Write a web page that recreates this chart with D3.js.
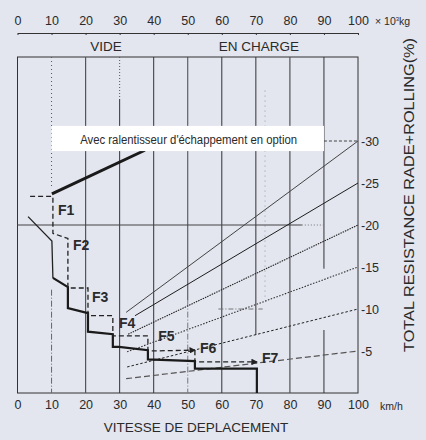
<!DOCTYPE html>
<html>
<head>
<meta charset="utf-8">
<script src="https://cdn.jsdelivr.net/npm/d3@7"></script>
<style>
  html, body { margin: 0; padding: 0; background: #e3e5ef; }
  svg { display: block; }
  text { font-family: "Liberation Sans", Arial, sans-serif; fill: #2a2a2a; }
</style>
</head>
<body>
<svg id="chart" width="426" height="440"></svg>
<script>
// Axis ticks
const speedTicks = [0, 10, 20, 30, 40, 50, 60, 70, 80, 90, 100];   // km/h
const weightTicks = [0, 10, 20, 30, 40, 50, 60, 70, 80, 90, 100];  // x 10^3 kg
const gradeTicks = [5, 10, 15, 20, 25, 30];                        // total resistance %

// Rimpull curve, solid (speed km/h, pull)
const rimpullSolid = [
  [10.4, 13.7], [14.8, 12.6], [14.8, 10.1], [20.7, 9.5], [20.7, 7.3],
  [28.0, 7.0], [28.0, 5.5], [29.8, 5.5], [38.3, 5.1], [38.3, 4.0],
  [52.1, 3.8], [52.1, 2.9], [70.3, 2.9], [70.3, 0]
];
const rimpullSolidLead = [[3.1, 21.0], [10.1, 18.1], [10.4, 13.7]];

// Rimpull curve, dashed
const rimpullDashed = [
  [3.7, 23.4], [10.4, 23.4], [10.4, 19.0], [14.8, 18.4], [14.8, 12.5],
  [20.7, 12.5], [20.7, 9.2], [28.0, 9.2], [28.0, 6.8], [38.3, 6.8],
  [38.3, 5.0], [52.1, 5.1]
];
const rimpullDashedTail = [[52.1, 5.1], [52.1, 3.7], [70.3, 3.7]];

// Optional exhaust retarder line
const retarderLine = [[10.1, 23.7], [37.4, 28.9]];

// Gear labels
const gearNames = ["F1", "F2", "F3", "F4", "F5", "F6", "F7"];
const gearX = [11.9, 16.3, 21.9, 29.8, 41.3, 53.6, 71.8];
const gearY = [21.2, 17.0, 10.8, 7.7, 6.2, 4.8, 3.6];

// Total resistance lines: start point and grade reached at the right edge
const gradeLines = [30, 25, 20, 15, 10, 5];
const gradeStartX = [31.9, 34.5, 32.5, 32.2, 32.2, 31.9];
const gradeStartY = [9.6, 9.2, 7.0, 4.9, 3.1, 1.7];

const svg = d3.select("#chart");
const x = d3.scaleLinear().domain([0, 100]).range([17.5, 358]);
const y = d3.scaleLinear().domain([0, 40]).range([393, 57]);
const line = d3.line().x(d => x(d[0])).y(d => y(d[1]));

svg.append("rect").attr("width", 426).attr("height", 440).attr("fill", "#e3e5ef");

// frame
svg.append("rect")
  .attr("x", x(0)).attr("y", y(40))
  .attr("width", x(100) - x(0)).attr("height", y(0) - y(40))
  .attr("fill", "none").attr("stroke", "#333").attr("stroke-width", 1);

// vertical guide lines
const g = svg.append("g").attr("fill", "none");
function vseg(v, a, b, color, w, dash) {
  g.append("line")
    .attr("x1", x(v)).attr("x2", x(v)).attr("y1", y(a)).attr("y2", y(b))
    .attr("stroke", color).attr("stroke-width", w)
    .attr("stroke-dasharray", dash || null);
}
function hseg(v, a, b, color, w, dash) {
  g.append("line")
    .attr("y1", y(v)).attr("y2", y(v)).attr("x1", x(a)).attr("x2", x(b))
    .attr("stroke", color).attr("stroke-width", w)
    .attr("stroke-dasharray", dash || null);
}
vseg(10, 40, 24.5, "#555", 1, "1,3");
vseg(10, 12.3, 0, "#666", 1, "6,2,1,2");
vseg(20, 40, 0, "#555", 1.2);
vseg(30, 40, 35, "#555", 1, "1,2");
vseg(30, 35, 0, "#333", 1);
vseg(40, 40, 0, "#333", 1);
vseg(50, 40, 11, "#444", 1);
vseg(50, 11, 0, "#777", 1, "6,2,1,2");
vseg(60, 40, 0, "#333", 1);
vseg(70, 40, 6.9, "#333", 1);
vseg(72.7, 36, 11, "#888", 0.8, "1,4");
vseg(80, 40, 0, "#555", 1.2);
vseg(90, 40, 14.8, "#333", 1);
vseg(90, 7.5, 0, "#333", 1);
hseg(20, 0, 83.5, "#444", 1.2);
hseg(20, 83.5, 90, "#777", 1, "1,2");
hseg(30, 90, 100, "#444", 1, "3,2");
hseg(10, 59, 72, "#777", 1, "5,2,1,2");

// total resistance lines
const gradeStyles = [
  { c: "#444", w: 1, d: null },
  { c: "#1e1e1e", w: 1, d: null },
  { c: "#222", w: 1.1, d: "1.5,1" },
  { c: "#333", w: 1.1, d: "1.5,1.5" },
  { c: "#222", w: 1, d: "2.5,2" },
  { c: "#555", w: 1.2, d: "6,3" }
];
gradeLines.forEach((gr, i) => {
  const s = gradeStyles[i];
  svg.append("path")
    .attr("d", line([[gradeStartX[i], gradeStartY[i]], [100, gr]]))
    .attr("fill", "none").attr("stroke", s.c).attr("stroke-width", s.w)
    .attr("stroke-dasharray", s.d);
});

// arrow marker
svg.append("defs").append("marker")
  .attr("id", "arr").attr("viewBox", "0 0 6 6").attr("refX", 5).attr("refY", 3)
  .attr("markerWidth", 5).attr("markerHeight", 5).attr("orient", "auto")
  .append("path").attr("d", "M0,0 L6,3 L0,6 Z").attr("fill", "#222");

// rimpull curves
svg.append("path").attr("d", line(rimpullSolidLead))
  .attr("fill", "none").attr("stroke", "#222").attr("stroke-width", 1.3);
svg.append("path").attr("d", line(rimpullSolid))
  .attr("fill", "none").attr("stroke", "#1a1a1a").attr("stroke-width", 2.2);
svg.append("path").attr("d", line(rimpullDashed))
  .attr("fill", "none").attr("stroke", "#222").attr("stroke-width", 1.3)
  .attr("stroke-dasharray", "5,3").attr("marker-end", "url(#arr)");
svg.append("path").attr("d", line(rimpullDashedTail))
  .attr("fill", "none").attr("stroke", "#222").attr("stroke-width", 1.3)
  .attr("stroke-dasharray", "5,3").attr("marker-end", "url(#arr)");

// retarder line and its caption
svg.append("path").attr("d", line(retarderLine))
  .attr("fill", "none").attr("stroke", "#1a1a1a").attr("stroke-width", 3);
svg.append("rect")
  .attr("x", x(10)).attr("y", y(31.8))
  .attr("width", x(90) - x(10)).attr("height", y(28.8) - y(31.8))
  .attr("fill", "#ffffff");
svg.append("text")
  .attr("x", x(18.4)).attr("y", y(29.6))
  .attr("font-family", "'Liberation Sans Narrow', 'Arial Narrow', sans-serif")
  .attr("font-size", 12.5).attr("fill", "#1a1a1a")
  .attr("textLength", 217).attr("lengthAdjust", "spacingAndGlyphs")
  .text("Avec ralentisseur d'échappement en option");

// gear labels
gearNames.forEach((n, i) => {
  svg.append("text")
    .attr("x", x(gearX[i])).attr("y", y(gearY[i]))
    .attr("font-size", 14).attr("font-weight", "bold").attr("fill", "#1a1a1a")
    .text(n);
});

// bottom speed axis
const axB = svg.append("g").attr("transform", `translate(0,${y(0)})`)
  .call(d3.axisBottom(x).tickValues(speedTicks).tickSize(0).tickPadding(7));
axB.select(".domain").remove();
axB.selectAll("text").attr("font-size", 12.5).attr("fill", "#3a3a3a")
  .attr("font-family", "'Liberation Sans', Arial, sans-serif");

// top weight axis
const axT = svg.append("g").attr("transform", "translate(0,33)")
  .call(d3.axisTop(x).tickValues(weightTicks).tickSizeInner(-2).tickSizeOuter(0).tickPadding(8));
axT.select(".domain").attr("stroke", "#333");
axT.selectAll("line").attr("stroke", "#333");
axT.selectAll("text").attr("font-size", 12.5).attr("fill", "#3a3a3a")
  .attr("font-family", "'Liberation Sans', Arial, sans-serif");

// right grade axis
const axR = svg.append("g").attr("transform", `translate(${x(100)},0)`)
  .call(d3.axisRight(y).tickValues(gradeTicks).tickSize(0).tickPadding(3)
    .tickFormat(d => "-" + d));
axR.select(".domain").remove();
axR.selectAll("text").attr("font-size", 12.5).attr("fill", "#3a3a3a")
  .attr("font-family", "'Liberation Sans', Arial, sans-serif");

// unit labels
const unitW = svg.append("text").attr("x", 375).attr("y", 25).attr("font-size", 10.5);
unitW.append("tspan").text("× 10");
unitW.append("tspan").attr("dy", -4).attr("font-size", 6).text("3");
unitW.append("tspan").attr("dy", 4).text("kg");
svg.append("text").attr("x", 380).attr("y", 410).attr("font-size", 10.5).text("km/h");

// section titles
svg.append("text").attr("x", 106).attr("y", 51).attr("text-anchor", "middle")
  .attr("font-size", 13.5).text("VIDE");
svg.append("text").attr("x", 259).attr("y", 51).attr("text-anchor", "middle")
  .attr("font-size", 13.5).text("EN CHARGE");

// axis titles
svg.append("text").attr("x", 196).attr("y", 432).attr("text-anchor", "middle")
  .attr("font-size", 13.5).text("VITESSE DE DEPLACEMENT");
svg.append("text")
  .attr("transform", "translate(414,352) rotate(-90)")
  .attr("font-size", 14.5)
  .attr("textLength", 314).attr("lengthAdjust", "spacingAndGlyphs")
  .text("TOTAL RESISTANCE  RADE+ROLLING(%)");
</script>
</body>
</html>
